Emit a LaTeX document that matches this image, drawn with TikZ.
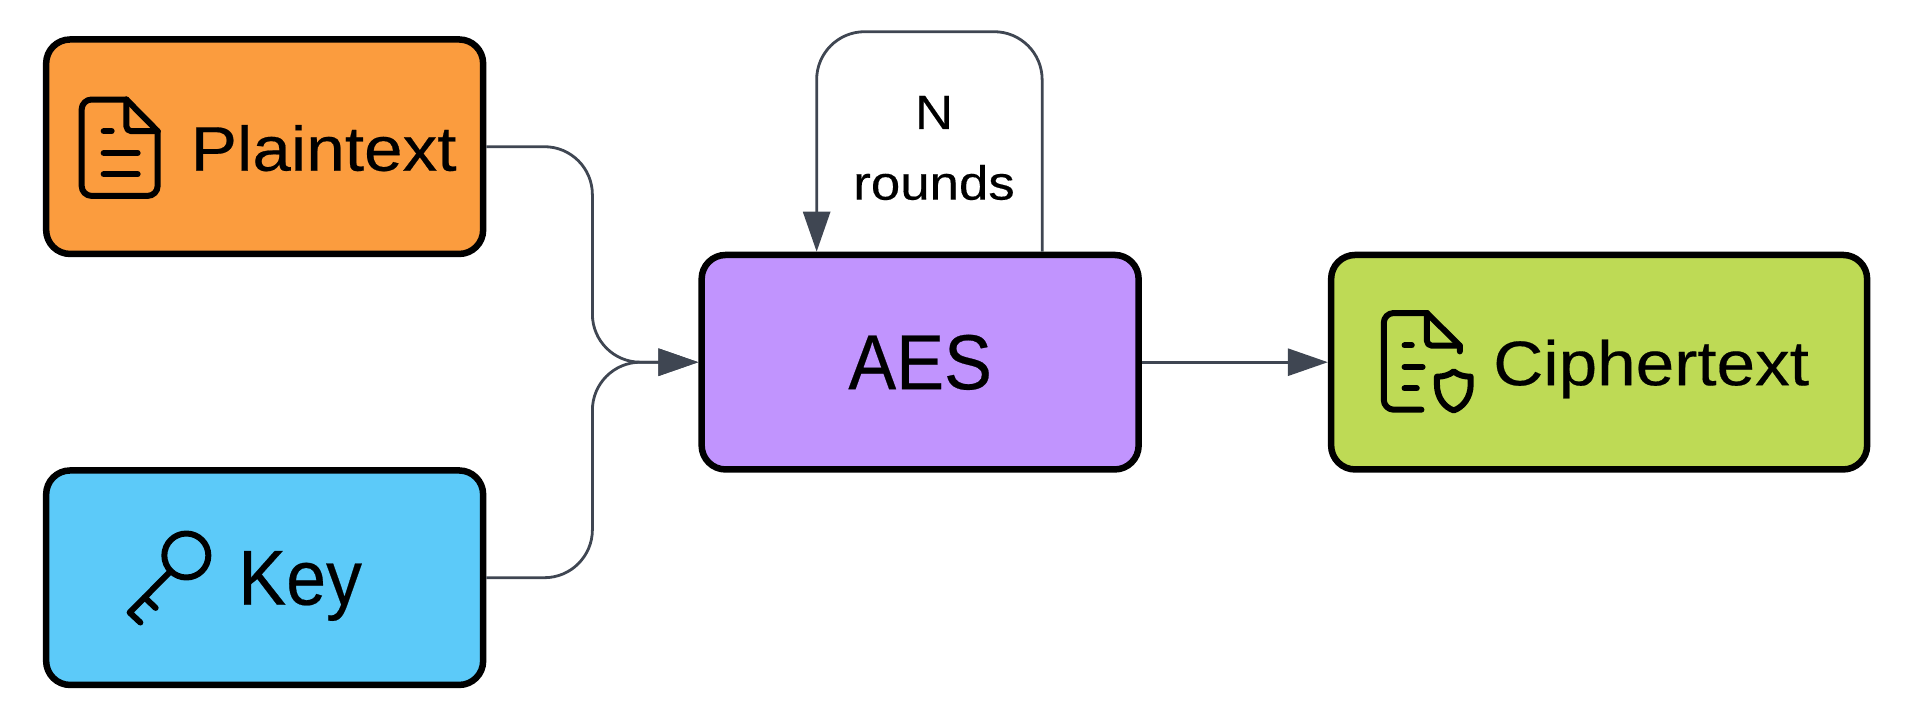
\documentclass[tikz,border=0pt]{standalone}
\usepackage{fontspec}
\setmainfont{Liberation Sans}
\newfontfamily\widefont[FakeStretch=1.1, FakeBold=0.3]{Liberation Sans}
\newfontfamily\slimfont[FakeStretch=0.92, FakeBold=0.3]{Liberation Sans}
\usetikzlibrary{arrows.meta, matrix}
\definecolor{plainfill}{HTML}{FB9C3E}
\definecolor{keyfill}{HTML}{5CCAF9}
\definecolor{aesfill}{HTML}{C194FE}
\definecolor{cipherfill}{HTML}{BEDA55}
\definecolor{linkgray}{HTML}{3F4652}

\begin{document}
\begin{tikzpicture}[x=1pt, y=1pt,
  block/.style={rectangle, rounded corners=24pt, draw=black, line width=6.5pt,
    minimum width=437pt, minimum height=214.5pt, inner sep=0pt, text depth=0pt},
  %
  small/.style={block, font=\widefont\fontsize{63}{70}\selectfont},
  %
  large/.style={block, font=\slimfont\fontsize{78}{86}\selectfont, text height=54pt},
  %
  link/.style={draw=linkgray, line width=2.8pt,
    -{Triangle[length=40pt, width=27pt]}},
  %
  icon/.style={draw=black, line width=6pt, line cap=round, line join=round}
  ]

  \useasboundingbox (0,0) rectangle (1912,-720);

  \begin{scope}
    \matrix [anchor=north west, inner sep=0pt] (flow) at (42.7,-36) {
    %%%%%%%%%%%%%%%%%%%%%%%%%%%%%%%
    \node [small, fill=plainfill, text height=48pt] (plain) {\hspace{118pt}Plaintext}; &[212pt]
    &[186pt]
    \\[-5.5pt]
    %%%%%%%%%%%%%%%%%%%%%%%%%%%%%%%
    &
    \node [large, fill=aesfill] (aes) {AES}; &
    \node [small, fill=cipherfill, text height=46pt, minimum width=536pt] (cipher) {\hspace{104pt}Ciphertext}; \\[-5.5pt]
    %%%%%%%%%%%%%%%%%%%%%%%%%%%%%%%
    \node [large, fill=keyfill] (key) {\hspace{71pt}Key}; &
    &
    \\
  };
  \end{scope}

  \node [font=\widefont\fontsize{48}{70.7}\selectfont, align=center] (rounds)
    at (934,-148) {N\\rounds};

  \begin{scope}
    \draw [link, rounded corners=48pt] (plain.east) -- ++(106,0) |- (aes.west);
    \draw [link, rounded corners=48pt] (key.east) -- ++(106,0) |- (aes.west);
    \draw [link] (aes.east) -- (cipher.west);
    \draw [link, rounded corners=48pt] ([xshift=122pt]aes.north) -- ++(0,220)
      -| ([xshift=-103.5pt]aes.north);
  \end{scope}

  % plaintext icon
  \begin{scope}[shift={(plain.center)}]
    \draw [icon, rounded corners=10pt] (-138.3,47.2) -- (-183,47.2)
      -- (-183,-49.2) -- (-107,-49.2) -- (-107,15.5);
    \draw [icon] (-138.3,47.2) -- (-107,15.5);
    \draw [icon, rounded corners=5pt] (-138.3,47.2) -- (-138.3,15.5) -- (-107,15.5);
    \draw [icon] (-161,15.5) -- (-153,15.5);
    \draw [icon] (-161,-6.2) -- (-127,-6.2);
    \draw [icon] (-161,-27.5) -- (-127,-27.5);
  \end{scope}

  % key icon
  \begin{scope}[shift={(key.center)}]
    \draw [icon] (-78.3,22.2) circle (22pt);
    \draw [icon] (-94,6.5) -- (-135,-34.8) -- (-124.3,-44.8);
    \draw [icon] (-120,-19.8) -- (-109,-30.2);
  \end{scope}

  % ciphertext icon
  \begin{scope}[shift={(cipher.center)}]
    \draw [icon, rounded corners=10pt] (-172.3,49.2) -- (-215.4,49.2) -- (-215.4,-47.5)
      -- (-177.7,-47.5);
    \draw [icon] (-172.3,49.2) -- (-139.3,16.5) -- (-139.3,10.8);
    \draw [icon, rounded corners=5pt] (-172.3,49.2) -- (-172.3,16.5) -- (-139.3,16.5);
    \draw [icon] (-194.6,16.8) -- (-187.4,16.8);
    \draw [icon] (-194.6,-4.8) -- (-176.6,-4.8);
    \draw [icon] (-194.6,-26.2) -- (-182.4,-26.2);
    \draw [icon] (-145.4,-9.2) .. controls (-141,-13) and (-135,-14.5) .. (-128.5,-14.5)
      -- (-128.5,-22.5) .. controls (-128.5,-35) and (-136,-45) .. (-145.4,-48.2)
      .. controls (-155,-45) and (-162.2,-35) .. (-162.2,-22.5) -- (-162.2,-14.5)
      .. controls (-156,-14.5) and (-150,-13) .. (-145.4,-9.2) -- cycle;
  \end{scope}

\end{tikzpicture}
\end{document}
